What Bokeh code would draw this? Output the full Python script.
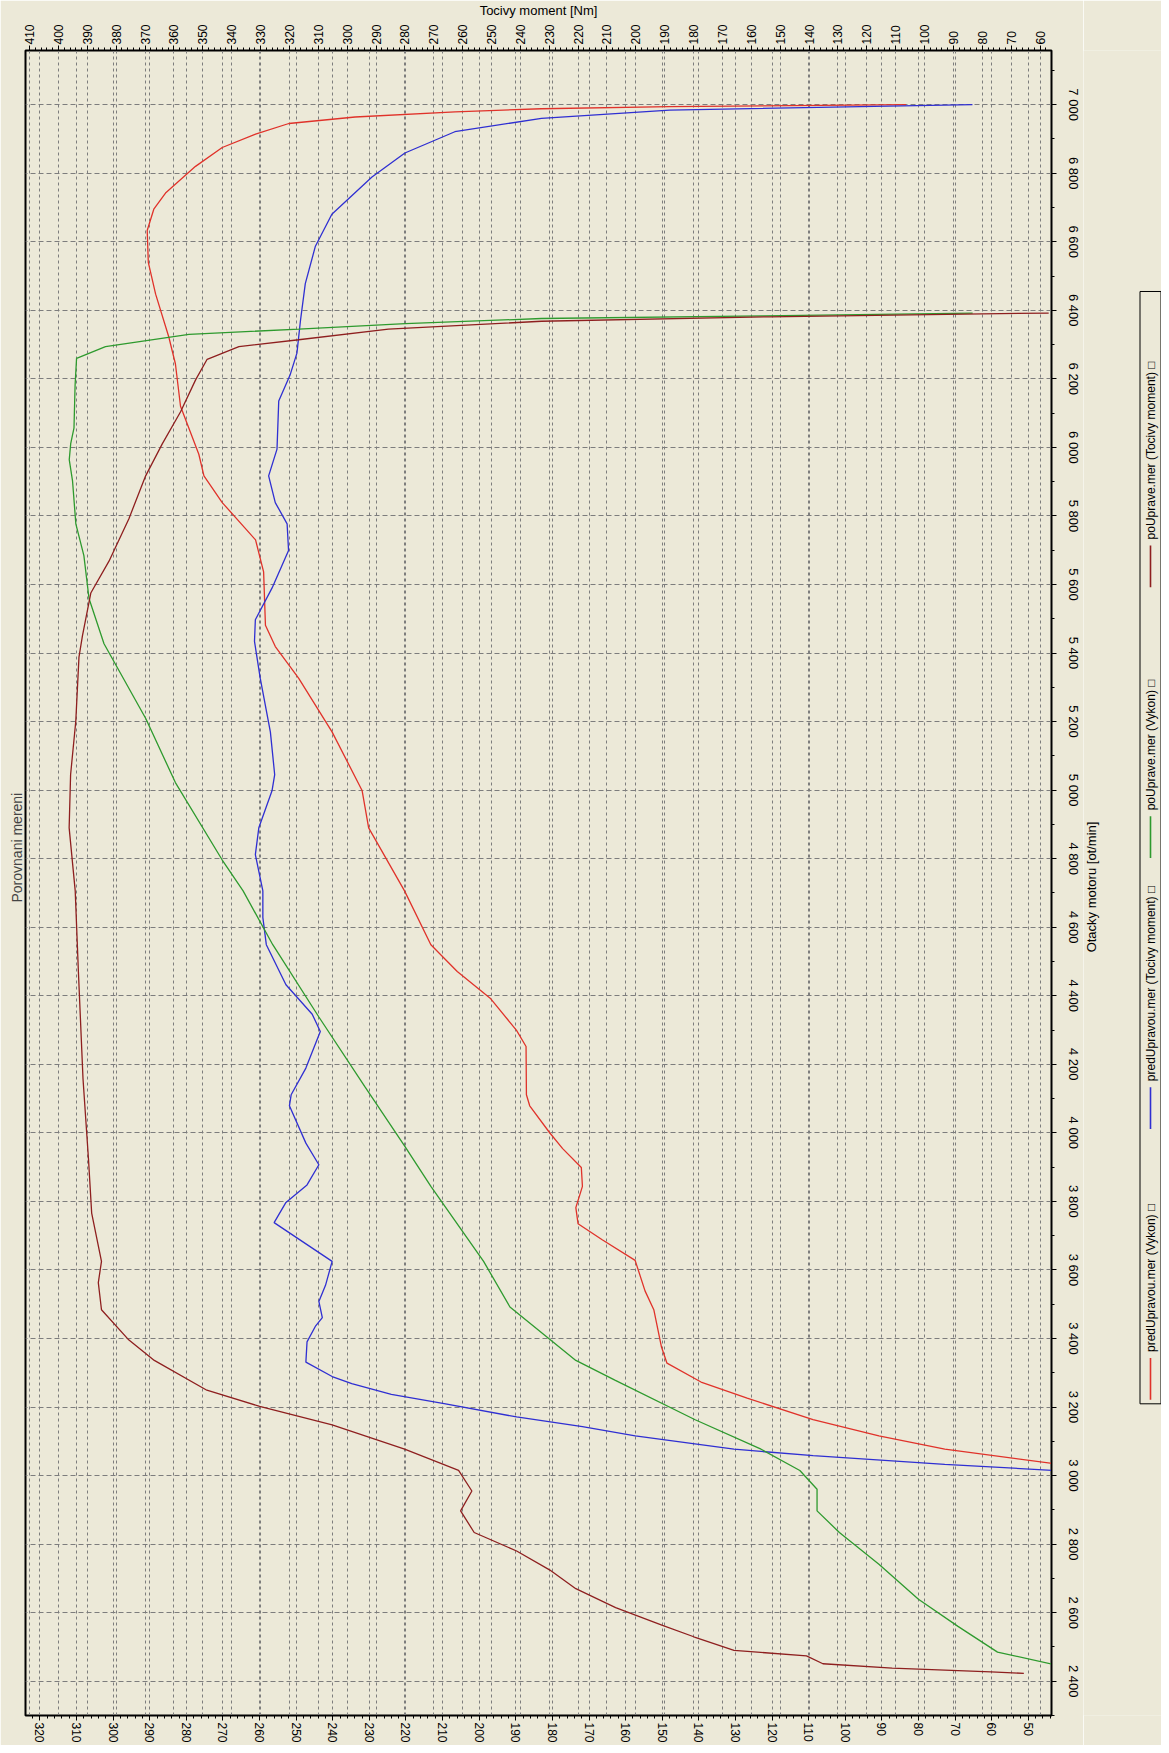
import math
from bokeh.plotting import figure
from bokeh.layouts import row
from bokeh.models import (Range1d, LinearAxis, SingleIntervalTicker, Grid,
                          CustomJSTickFormatter)
from bokeh.core.properties import value
from bokeh.embed import file_html
from bokeh.resources import INLINE

# ---------------- data ----------------
title_text = "Porovnani mereni"
rpm_label = "Otacky motoru [ot/min]"
torque_label = "Tocivy moment [Nm]"
series_names = ["predUpravou.mer (Vykon)", "predUpravou.mer (Tocivy moment)",
                "poUprave.mer (Vykon)", "poUprave.mer (Tocivy moment)"]

pred_vykon_rpm = [3035, 3077, 3116, 3163, 3226, 3273, 3328, 3375, 3484, 3539, 3628, 3688,
                  3735, 3782, 3844, 3899, 3954, 4001, 4079, 4111, 4252, 4299, 4393, 4471,
                  4549, 4706, 4890, 4999, 5170, 5326, 5419, 5481, 5637, 5730, 5839, 5917,
                  5980, 6120, 6244, 6322, 6447, 6540, 6633, 6695, 6742, 6820, 6875, 6914,
                  6945, 6964, 6979, 6988, 6994, 7000]
pred_vykon = [43.0, 72.8, 90.8, 108.8, 126.8, 139.4, 148.7, 150.2, 152.3, 154.7, 157.4, 166.4,
              173.0, 173.6, 171.8, 172.1, 177.2, 180.8, 186.2, 187.1, 187.2, 189.8, 197.0, 206.0,
              213.2, 220.4, 230.2, 232.0, 240.2, 249.3, 255.7, 258.4, 258.9, 261.1, 270.2, 275.2,
              276.6, 281.6, 283.0, 284.8, 288.4, 290.4, 290.7, 288.9, 285.7, 277.5, 270.2, 261.1,
              252.0, 233.9, 206.6, 183.0, 148.0, 83.4]

pred_moment_rpm = [3015, 3033, 3058, 3077, 3116, 3143, 3171, 3210, 3237, 3268, 3289, 3331,
                   3390, 3437, 3461, 3508, 3555, 3625, 3738, 3797, 3848, 3907, 3970, 4079,
                   4111, 4189, 4296, 4346, 4432, 4549, 4628, 4706, 4812, 4890, 4999, 5045,
                   5170, 5326, 5434, 5497, 5590, 5699, 5777, 5839, 5917, 5995, 6135, 6213,
                   6275, 6368, 6478, 6587, 6680, 6789, 6859, 6921, 6960, 6984, 7000]
pred_moment = [55.0, 93.0, 138.6, 166.0, 200.2, 218.5, 241.3, 266.4, 284.7, 298.4, 305.2, 314.3,
               313.9, 310.9, 308.6, 309.8, 307.5, 305.2, 325.3, 321.2, 313.9, 309.8, 314.3, 320.0,
               319.4, 314.3, 309.3, 312.1, 321.2, 328.0, 329.2, 329.2, 331.8, 330.6, 326.0, 325.1,
               326.6, 330.1, 332.1, 331.8, 326.0, 320.3, 320.8, 324.9, 327.2, 324.3, 323.7, 319.7,
               317.4, 316.2, 314.5, 311.0, 305.3, 291.4, 280.0, 262.7, 232.7, 188.3, 83.4]

po_vykon_rpm = [2450, 2485, 2560, 2639, 2741, 2834, 2897, 2960, 3015, 3077, 3163, 3278,
                3336, 3414, 3492, 3625, 3844, 3962, 4134, 4338, 4549, 4706, 4796, 5022,
                5209, 5427, 5559, 5684, 5777, 5902, 5964, 6011, 6057, 6182, 6260, 6294,
                6330, 6345, 6361, 6376, 6384, 6392]
po_vykon = [43.5, 58.4, 69.2, 80.0, 90.8, 101.6, 107.7, 107.7, 112.4, 123.0, 141.0, 162.8,
            173.6, 182.6, 191.6, 198.8, 213.2, 220.4, 231.2, 243.8, 256.4, 264.5, 270.2, 283.0,
            291.1, 302.5, 306.6, 308.0, 310.2, 311.1, 312.0, 311.6, 310.7, 310.4, 310.0, 302.1,
            279.3, 249.3, 220.2, 183.0, 122.5, 65.2]

po_moment_rpm = [2423, 2427, 2438, 2451, 2474, 2490, 2529, 2564, 2615, 2670, 2725, 2780,
                 2834, 2897, 2955, 3015, 3077, 3148, 3202, 3249, 3336, 3398, 3484, 3563,
                 3625, 3766, 3923, 4158, 4471, 4706, 4890, 5045, 5201, 5388, 5450, 5575,
                 5668, 5792, 5917, 6011, 6104, 6197, 6257, 6294, 6314, 6345, 6368, 6381, 6392]
po_moment = [65.6, 77.0, 111.2, 135.2, 140.9, 166.0, 179.7, 191.0, 207.0, 220.8, 229.9, 241.3,
             256.0, 260.7, 256.8, 261.4, 280.1, 305.2, 330.3, 348.6, 366.8, 375.9, 385.1, 386.2,
             385.1, 388.5, 389.6, 391.5, 393.1, 394.2, 396.3, 395.8, 394.0, 392.9, 391.7, 388.8,
             382.5, 375.6, 369.8, 364.0, 357.7, 352.5, 348.5, 337.5, 316.8, 285.7, 232.7, 153.8, 57.0]

# ---------------- styling ----------------
BG = "#ECE9D8"
FONT = "Liberation Sans"
GRIDC = "#7d7d7d"
colors = ["#E0322A", "#2F2FD2", "#2E9A2E", "#8E1F1F"]

MAIN_W, H, SIDE_W = 1083, 1745, 78
BORDER_TOP, BORDER_BOTTOM = 43, 30

p = figure(width=MAIN_W, height=H, output_backend="svg", toolbar_location=None,
           x_range=Range1d(323.95, 43.65), y_range=Range1d(2300, 7158),
           x_axis_location="below", y_axis_location="right",
           min_border_left=25, min_border_right=30, min_border_top=BORDER_TOP,
           min_border_bottom=BORDER_BOTTOM,
           background_fill_color=BG, border_fill_color=BG,
           title=title_text, title_location="left")
p.extra_x_ranges = {"torque": Range1d(411.42, 56.02)}
p.outline_line_color = "black"
p.outline_line_width = 2

p.title.align = "left"
p.title.offset = 813
p.title.text_font = FONT
p.title.text_font_size = "14px"
p.title.text_font_style = "normal"
p.title.standoff = 2

rpm_ticker = SingleIntervalTicker(interval=200, num_minor_ticks=2)
kw_ticker = SingleIntervalTicker(interval=10, num_minor_ticks=5)
nm_ticker = SingleIntervalTicker(interval=10, num_minor_ticks=5)

ra = p.yaxis[0]
ra.ticker = rpm_ticker
ra.formatter = CustomJSTickFormatter(
    code=r"""return Math.round(tick).toString().replace(/\B(?=(\d{3})+(?!\d))/g, " ");""")
ra.major_label_orientation = "vertical"

ka = p.xaxis[0]
ka.ticker = kw_ticker
ka.major_label_orientation = "vertical"

ta = LinearAxis(x_range_name="torque", ticker=nm_ticker, axis_label=torque_label)
ta.major_label_orientation = "vertical"
p.add_layout(ta, "above")

for ax in (ra, ka, ta):
    ax.axis_line_color = "black"
    ax.major_tick_line_color = "black"
    ax.minor_tick_line_color = "black"
    ax.major_tick_in = 0
    ax.minor_tick_in = 0
    ax.major_tick_out = 5
    ax.minor_tick_out = 3
    ax.major_label_text_font = FONT
    ax.major_label_text_color = "black"
    ax.axis_label_text_font = FONT
    ax.axis_label_text_font_style = "normal"
    ax.axis_label_text_font_size = "13px"
    ax.axis_label_text_color = "black"

ra.major_label_text_font_size = "13px"
ra.major_label_standoff = 9
ka.major_label_text_font_size = "12px"
ka.major_label_standoff = 2
ta.major_label_text_font_size = "12px"
ta.major_label_standoff = 1
ta.axis_label_standoff = 3

p.ygrid[0].ticker = rpm_ticker
p.ygrid[0].grid_line_color = GRIDC
p.ygrid[0].grid_line_dash = "5 3"
p.xgrid[0].ticker = kw_ticker
p.xgrid[0].grid_line_color = GRIDC
p.xgrid[0].grid_line_dash = "3 3"
tg = Grid(dimension=0, ticker=nm_ticker, x_range_name="torque",
          grid_line_color=GRIDC, grid_line_dash="3 3")
p.add_layout(tg)

p.line(pred_vykon, pred_vykon_rpm, line_color=colors[0], line_width=1.3)
p.line(pred_moment, pred_moment_rpm, line_color=colors[1], line_width=1.3,
       x_range_name="torque")
p.line(po_vykon, po_vykon_rpm, line_color=colors[2], line_width=1.3)
p.line(po_moment, po_moment_rpm, line_color=colors[3], line_width=1.3,
       x_range_name="torque")

# ---------------- side strip: rpm axis title + legend (rotated like the picture) ----------------
# The row aligns this strip's frame with the main frame, so its y range spans the
# frame height in pixels measured upward from the bottom of the page area.
frame_lo = BORDER_BOTTOM
frame_hi = H - BORDER_TOP
lf = figure(width=SIDE_W, height=H, output_backend="svg", toolbar_location=None,
            x_range=Range1d(0, SIDE_W), y_range=Range1d(frame_lo, frame_hi),
            x_axis_location=None, y_axis_location=None,
            min_border_left=0, min_border_right=0,
            min_border_top=BORDER_TOP, min_border_bottom=BORDER_BOTTOM,
            background_fill_color=BG, border_fill_color=BG)
lf.grid.visible = False
lf.outline_line_color = None

# axis title of the rpm axis, centred on the plot frame height
lf.text(x=[8], y=[(frame_lo + frame_hi) / 2 - 4], text=[rpm_label], angle=math.pi / 2,
        text_align="center", text_baseline="middle",
        text_font=value(FONT), text_font_size="13px", text_color="black")

box_left, box_right, box_bottom, box_top = 56.5, SIDE_W - 0.5, 343, 1460
lf.quad(left=[box_left], right=[box_right], top=[box_top], bottom=[box_bottom],
        fill_color=BG, line_color="black", line_width=1)

first_y, step, line_len = 347, 272, 42
starts = [first_y + i * step for i in range(4)]
lf.segment(x0=[67] * 4, y0=starts, x1=[67] * 4, y1=[s + line_len for s in starts],
           line_color=colors, line_width=1.6)
lf.text(x=[67.5] * 4, y=[s + line_len + 6 for s in starts],
        text=[n + "  \u25a1" for n in series_names], angle=math.pi / 2,
        text_align="left", text_baseline="middle",
        text_font=value(FONT), text_font_size="12px", text_color="black")

layout = row(p, lf, spacing=0)
open("out.html", "w").write(file_html(layout, INLINE))
